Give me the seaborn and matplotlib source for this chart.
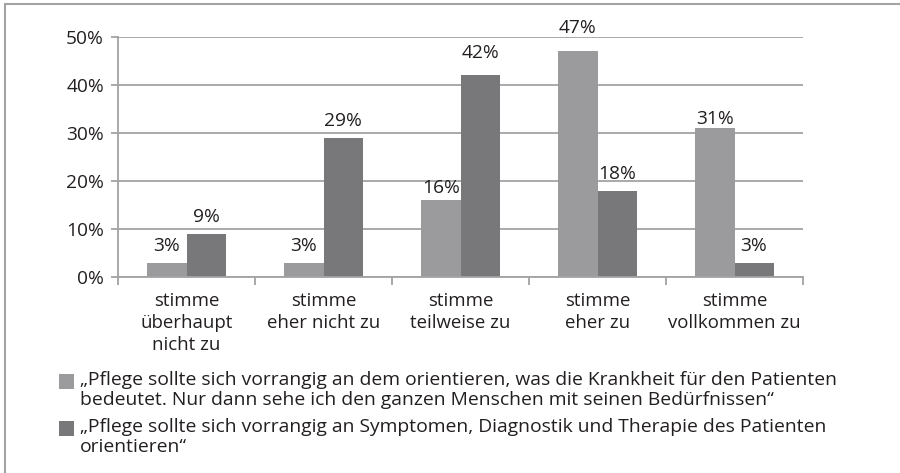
import matplotlib
matplotlib.use("Agg")
import matplotlib.pyplot as plt
from matplotlib.patches import Rectangle
from matplotlib.lines import Line2D
from matplotlib.ticker import FixedLocator, FuncFormatter
import seaborn as sns
import pandas as pd

categories = [
    "stimme\nüberhaupt\nnicht zu",
    "stimme\neher nicht zu",
    "stimme\nteilweise zu",
    "stimme\neher zu",
    "stimme\nvollkommen zu",
]
series_names = [
    "„Pflege sollte sich vorrangig an dem orientieren, was die Krankheit für den Patienten\n"
    "bedeutet. Nur dann sehe ich den ganzen Menschen mit seinen Bedürfnissen“",
    "„Pflege sollte sich vorrangig an Symptomen, Diagnostik und Therapie des Patienten\n"
    "orientieren“",
]
values_krankheit = [3, 3, 16, 47, 31]
values_symptome = [9, 29, 42, 18, 3]
y_ticks = [0, 10, 20, 30, 40, 50]

# extra gap (points) between some value labels and their bars
label_extra_pad = [
    [0, 0, -3, 5, -5],
    [0, 0, 4, 0, 0],
]

colors = ["#9b9b9e", "#78787a"]
text_color = "#231f20"
line_color = "#a3a3a3"

sns.set_theme(style="white")
plt.rcParams["font.family"] = ["Open Sans", "DejaVu Sans"]
plt.rcParams["text.color"] = text_color

df = pd.DataFrame({
    "Kategorie": categories * 2,
    "Aussage": [series_names[0]] * len(categories) + [series_names[1]] * len(categories),
    "Anteil": values_krankheit + values_symptome,
})

W, H = 900, 473
fig = plt.figure(figsize=(W / 100, H / 100), dpi=100)
ax = fig.add_axes([118 / W, 1 - 277 / H, (803 - 118) / W, (277 - 37) / H])

sns.barplot(data=df, x="Kategorie", y="Anteil", hue="Aussage", order=categories,
            hue_order=series_names, palette=colors, width=0.57, saturation=1,
            linewidth=0, legend=False, ax=ax)

ax.set_xlim(-0.5, len(categories) - 0.5)
ax.set_ylim(0, 50)
ax.set_xlabel("")
ax.set_ylabel("")

# horizontal gridlines
ax.yaxis.set_major_locator(FixedLocator(y_ticks))
ax.yaxis.set_major_formatter(FuncFormatter(lambda v, p: f"{int(v)}%"))
ax.grid(axis="y", color=line_color, linewidth=1.3)
ax.set_axisbelow(True)

for s in ["top", "right"]:
    ax.spines[s].set_visible(False)
for s in ["left", "bottom"]:
    ax.spines[s].set_color(line_color)
    ax.spines[s].set_linewidth(1.3)

ax.tick_params(axis="y", which="major", length=5, width=1.3, color=line_color,
               labelsize=13.8, labelcolor=text_color, pad=5, left=True)
ax.tick_params(axis="x", which="major", length=0, labelsize=13.4,
               labelcolor=text_color, pad=11)
ax.xaxis.set_minor_locator(FixedLocator([i - 0.5 for i in range(len(categories) + 1)]))
ax.tick_params(axis="x", which="minor", length=6, width=1.3, color=line_color,
               direction="out", bottom=True)
for lbl in ax.get_xticklabels():
    lbl.set_linespacing(1.28)

# value labels above bars
for container, extra in zip(ax.containers, label_extra_pad):
    for bar, e in zip(container, extra):
        ax.annotate(f"{int(round(bar.get_height()))}%",
                    xy=(bar.get_x() + bar.get_width() / 2, bar.get_height()),
                    xytext=(0, 5.5 + e), textcoords="offset points",
                    ha="center", va="bottom", fontsize=13.8, color=text_color,
                    annotation_clip=False)

# legend drawn as boxes and wrapped text below the chart
legend_rows = [(381, series_names[0]), (428, series_names[1])]
for (center, label), c in zip(legend_rows, colors):
    fig.patches.append(Rectangle((59 / W, 1 - (center + 7.5) / H), 15 / W, 15 / H,
                                 transform=fig.transFigure, facecolor=c,
                                 edgecolor="none"))
    fig.text(80 / W, 1 - (center - 10) / H, label, ha="left", va="top",
             fontsize=13.85, color=text_color, linespacing=1.17)

# frame lines along the top and left edge
fig.add_artist(Line2D([4.5 / W, 1], [1 - 4.5 / H, 1 - 4.5 / H], color=line_color,
                      linewidth=1.5, transform=fig.transFigure))
fig.add_artist(Line2D([4.5 / W, 4.5 / W], [0, 1 - 4.5 / H], color=line_color,
                      linewidth=1.5, transform=fig.transFigure))

fig.savefig("out.png", dpi=100)
